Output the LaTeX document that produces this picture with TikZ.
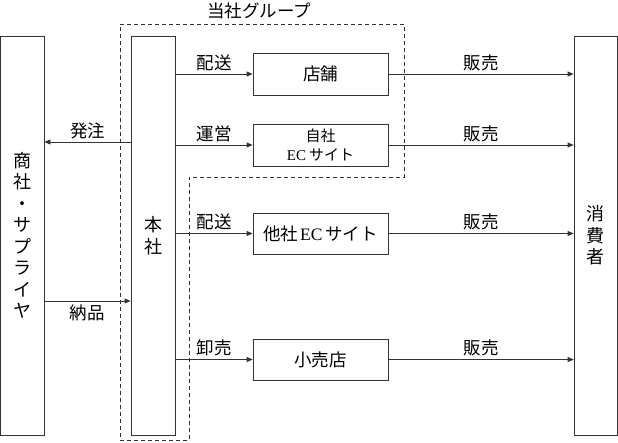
\documentclass[tikz,border=0pt]{standalone}
\usepackage{fontspec}
\setmainfont{Noto Sans CJK JP}
\newfontfamily\latinfont{Liberation Serif}
\usetikzlibrary{arrows.meta}

\begin{document}
\begin{tikzpicture}[x=1pt,y=-1pt,
  box/.style={draw=black!80,rectangle,line width=0.8pt,inner sep=0pt},
  tall/.style={box,minimum width=44pt,minimum height=399pt,align=center,font=\fontsize{18}{21.5}\selectfont},
  site/.style={box,minimum width=135pt,minimum height=42pt,align=center,font=\fontsize{17.5}{19}\selectfont},
  flow/.style={draw=black!80,line width=0.8pt,-{Triangle[length=6pt,width=5pt]}},
  lbl/.style={font=\fontsize{17.5}{19}\selectfont,inner sep=3pt}]
\useasboundingbox (0,0) rectangle (618,442);

% Group frame
\draw[black!80,line width=0.8pt,dash pattern=on 4pt off 3pt]
  (120,24) -- (404,24) -- (404,177) -- (189,177) -- (189,440) -- (120,440) -- cycle;
\node[lbl] (grp) at (259,11) {当社グループ};

% Tall boxes
\node[tall] (supplier) at (22,235.5) {商\\社\\・\\サ\\プ\\ラ\\イ\\ヤ};
\node[tall] (hq) at (153,235.5) {本\\社};
\node[tall,minimum width=43pt] (consumer) at (595.5,235.5) {消\\費\\者};

% Sales channels
\node[site] (store) at (320.5,74) {店舗};
\node[site,font=\fontsize{15}{19}\selectfont] (ownec) at (320.5,145) {自社\\{\latinfont EC}\hspace{3pt}サイト};
\node[site,minimum height=41pt] (otherec) at (320.5,233.5) {他社\hspace{2pt}{\latinfont EC}\hspace{3pt}サイト};
\node[site,minimum height=41pt] (retail) at (320.5,359.5) {小売店};

% Orders and deliveries
\coordinate (ord) at (131,142);
\coordinate (dlv) at (44,301);
\draw[flow] (ord) -- (ord -| supplier.east) node[lbl,midway,above] {発注};
\draw[flow] (dlv) -- (dlv -| hq.west) node[lbl,midway,below] {納品};

% Head office to channels
\draw[flow] (hq.east |- store) -- (store) node[lbl,midway,above] {配送};
\draw[flow] (hq.east |- ownec) -- (ownec) node[lbl,midway,above] {運営};
\draw[flow] (hq.east |- otherec) -- (otherec) node[lbl,midway,above] {配送};
\draw[flow] (hq.east |- retail) -- (retail) node[lbl,midway,above] {卸売};

% Channels to consumer
\foreach \ch in {store,ownec,otherec,retail}
  \draw[flow] (\ch) -- (\ch -| consumer.west) node[lbl,midway,above] {販売};
\end{tikzpicture}
\end{document}
